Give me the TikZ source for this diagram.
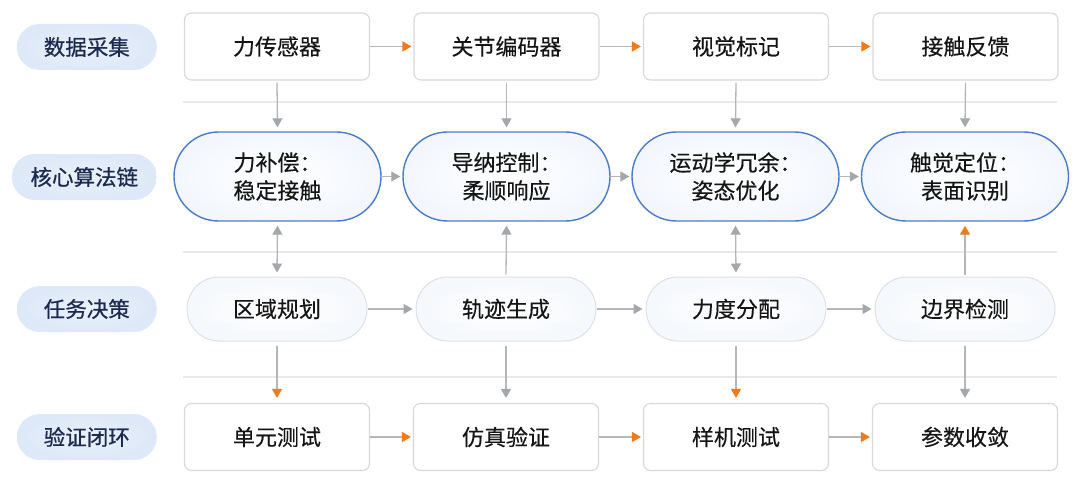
\documentclass[tikz,border=0pt]{standalone}
\usepackage{fontspec}
\usetikzlibrary{arrows.meta,shapes.misc,positioning}
\newfontfamily\cjk[FakeBold=0.3]{Noto Sans CJK SC}
\newfontfamily\cjkb[FakeBold=0.7]{Noto Sans CJK SC}
\definecolor{boxgray}{HTML}{D6D8DC}
\definecolor{algoblue}{HTML}{4A7CC6}
\definecolor{algofill}{HTML}{F3F7FD}
\definecolor{taskgray}{HTML}{DCE1E8}
\definecolor{taskfill}{HTML}{F5F8FC}
\definecolor{labfill}{HTML}{DDE8F8}
\definecolor{labin}{HTML}{EAF1FB}
\definecolor{labtext}{HTML}{1C2A4E}
\definecolor{txt}{HTML}{151515}
\definecolor{linegray}{HTML}{B4B6BA}
\definecolor{headgray}{HTML}{A4A7AC}
\definecolor{orangehead}{HTML}{F27A1A}
\definecolor{sepgray}{HTML}{E8E9EB}
\tikzset{
  boxnode/.style={draw=boxgray, line width=1.1pt, fill=white, rounded corners=7pt,
    minimum width=185pt, minimum height=67pt, inner sep=0pt,
    font=\cjk\fontsize{22}{28}\selectfont, text=txt},
  algonode/.style={rounded rectangle, draw=algoblue, line width=1.4pt,
    inner color=white, outer color=algofill,
    minimum width=207pt, minimum height=89pt, inner sep=0pt, align=center,
    font=\cjk\fontsize{22}{28}\selectfont, text=txt},
  tasknode/.style={rounded rectangle, draw=taskgray, line width=1pt,
    inner color=white, outer color=taskfill,
    minimum width=180pt, minimum height=64pt, inner sep=0pt,
    font=\cjk\fontsize{22}{28}\selectfont, text=txt},
  labnode/.style={rounded rectangle, inner color=labin, outer color=labfill,
    minimum height=46pt, inner sep=0pt, anchor=east,
    font=\cjkb\fontsize{21.5}{28}\selectfont, text=labtext},
  garr/.style={draw=linegray, line width=1.3pt,
    -{Triangle[length=9pt,width=10pt,color=headgray]}},
  garrd/.style={draw=linegray, line width=1.3pt,
    {Triangle[length=9pt,width=10pt,color=headgray]}-{Triangle[length=9pt,width=10pt,color=headgray]}},
  oarr/.style={draw=linegray, line width=1.3pt,
    -{Triangle[length=9pt,width=10pt,color=orangehead]}},
  sepline/.style={draw=sepgray, line width=1.5pt}
}
\begin{document}
\begin{tikzpicture}[x=1pt,y=-1pt]
\useasboundingbox[fill=white] (0,0) rectangle (1080,495);
% separators
\draw[sepline] (183,102) -- (1057,102);
\draw[sepline] (183,252) -- (1057,252);
\draw[sepline] (183,377) -- (1057,377);
% labels
\node[labnode, minimum width=140pt] (l1) at (157,47) {数据采集};
\node[labnode, minimum width=145pt] (l2) at (157,177) {核心算法链};
\node[labnode, minimum width=140pt] (l3) at (157,309) {任务决策};
\node[labnode, minimum width=140pt] (l4) at (157,437) {验证闭环};
% row 1
\node[boxnode] (a1) at (277,46.5) {力传感器};
\node[boxnode] (a2) at (506.5,46.5) {关节编码器};
\node[boxnode] (a3) at (736,46.5) {视觉标记};
\node[boxnode] (a4) at (965.5,46.5) {接触反馈};
% row 2
\node[algonode] (b1) at (277.5,176.5) {力补偿：\\稳定接触};
\node[algonode] (b2) at (506.5,176.5) {导纳控制：\\柔顺响应};
\node[algonode] (b3) at (735.5,176.5) {运动学冗余：\\姿态优化};
\node[algonode] (b4) at (965,176.5) {触觉定位：\\表面识别};
% row 3
\node[tasknode] (c1) at (277,309) {区域规划};
\node[tasknode] (c2) at (506,309) {轨迹生成};
\node[tasknode] (c3) at (736,309) {力度分配};
\node[tasknode] (c4) at (965,309) {边界检测};
% row 4
\node[boxnode] (d1) at (277,437) {单元测试};
\node[boxnode] (d2) at (506,437) {仿真验证};
\node[boxnode] (d3) at (736,437) {样机测试};
\node[boxnode] (d4) at (965,437) {参数收敛};
% row 1 horizontal
\draw[oarr] (a1.east) -- ([xshift=-2pt]a2.west);
\draw[oarr] (a2.east) -- ([xshift=-2pt]a3.west);
\draw[oarr] (a3.east) -- ([xshift=-2pt]a4.west);
% row 1 -> row 2
\draw[garr] ([yshift=-2pt]a1.south) -- ([yshift=4pt]b1.north);
\draw[garr] ([yshift=-2pt]a2.south) -- ([yshift=4pt]b2.north);
\draw[garr] ([yshift=-2pt]a3.south) -- ([yshift=4pt]b3.north);
\draw[garr] ([yshift=-2pt]a4.south) -- ([yshift=4pt]b4.north);
% row 2 horizontal
\draw[garr] (b1.east) -- ([xshift=-2pt]b2.west);
\draw[garr] (b2.east) -- ([xshift=-2pt]b3.west);
\draw[garr] (b3.east) -- ([xshift=-2pt]b4.west);
% row 2 <-> row 3
\draw[garrd] ([yshift=-4pt]b1.south) -- ([yshift=4pt]c1.north);
\draw[garr] ([yshift=2pt]c2.north) -- ([yshift=-4pt]b2.south);
\draw[garrd] ([yshift=-4pt]b3.south) -- ([yshift=4pt]c3.north);
\draw[oarr] ([yshift=2pt]c4.north) -- ([yshift=-4pt]b4.south);
% row 3 horizontal
\draw[garr] (c1.east) -- ([xshift=-3pt]c2.west);
\draw[garr] (c2.east) -- ([xshift=-3pt]c3.west);
\draw[garr] (c3.east) -- ([xshift=-3pt]c4.west);
% row 3 -> row 4
\draw[oarr] ([yshift=-4pt]c1.south) -- ([yshift=5pt]d1.north);
\draw[garr] ([yshift=-4pt]c2.south) -- ([yshift=5pt]d2.north);
\draw[oarr] ([yshift=-4pt]c3.south) -- ([yshift=5pt]d3.north);
\draw[garr] ([yshift=-4pt]c4.south) -- ([yshift=5pt]d4.north);
% row 4 horizontal
\draw[oarr] (d1.east) -- ([xshift=-2pt]d2.west);
\draw[oarr] (d2.east) -- ([xshift=-2pt]d3.west);
\draw[oarr] (d3.east) -- ([xshift=-2pt]d4.west);
\end{tikzpicture}
\end{document}
